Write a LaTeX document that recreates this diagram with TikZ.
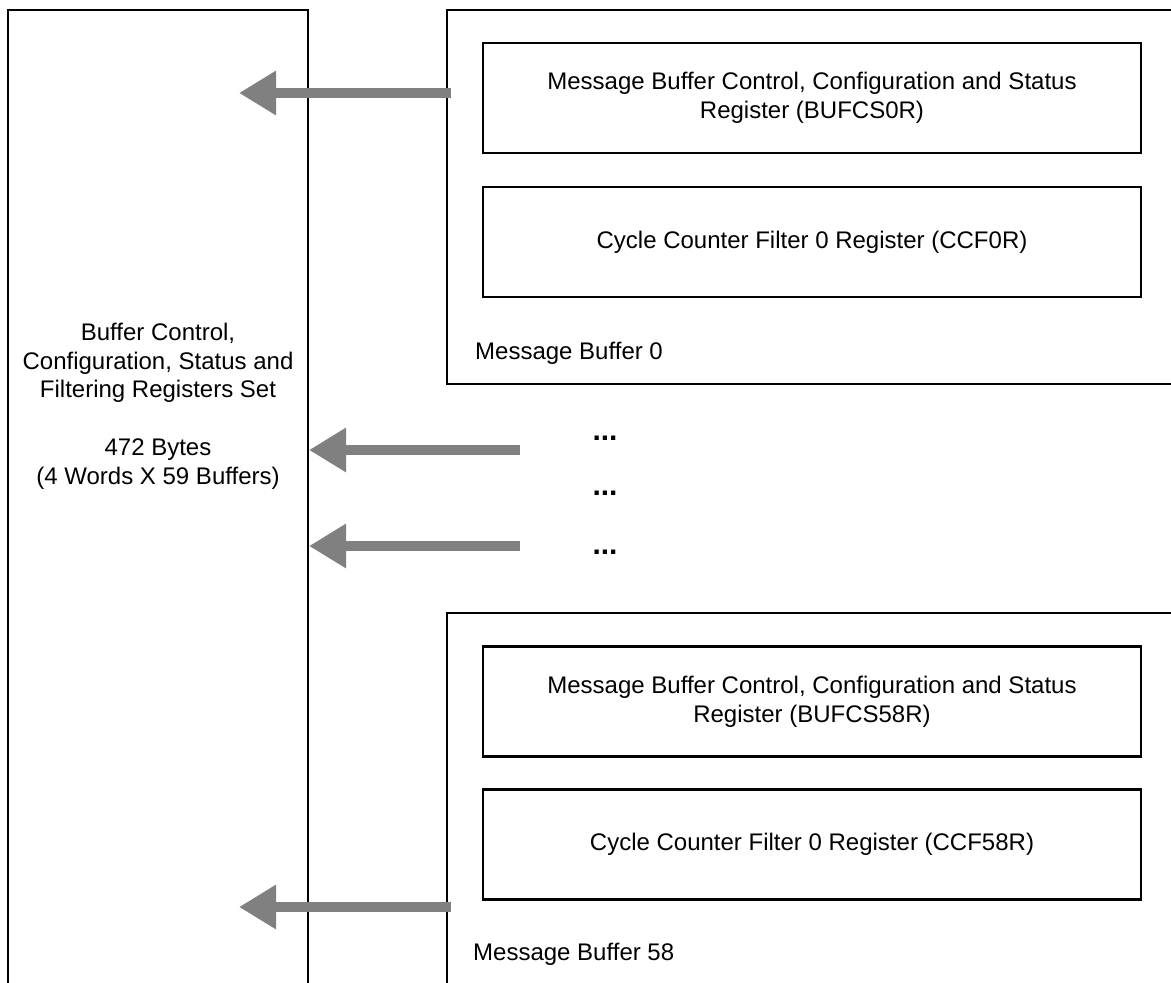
\documentclass[tikz,border=0pt]{standalone}
\usepackage{fontspec}
\setmainfont{Liberation Sans}
\usetikzlibrary{arrows.meta}
\begin{document}
\begin{tikzpicture}[x=1pt,y=-1pt,
  frame/.style={draw=black,line width=2.2pt},
  regbox/.style={draw=black,line width=2.2pt,minimum width=658pt,minimum height=110pt,align=center,inner sep=0pt,font=\fontsize{24}{28.8}\selectfont},
  lbl/.style={inner sep=0pt,font=\fontsize{24}{28.8}\selectfont},
  dots/.style={inner sep=0pt,font=\fontsize{30}{36}\selectfont\bfseries},
  bigarrow/.style={draw=black!50,line width=10pt,-{Triangle[length=37pt,width=42pt]}}]
\useasboundingbox (0,0) rectangle (1171,983);
% left set box (open at bottom)
\draw[frame] (8,995) -- (8,10) -- (308,10) -- (308,995);
% Message buffer 0 (open at right)
\draw[frame] (1185,10) -- (447,10) -- (447,384) -- (1185,384);
% Message buffer 58 (open right and bottom)
\draw[frame] (1185,613) -- (447,613) -- (447,995);
% register boxes
\node[regbox] (bufcs0) at (812,98) {Message Buffer Control, Configuration and Status\\Register (BUFCS0R)};
\node[regbox] (ccf0) at (812,242) {Cycle Counter Filter 0 Register (CCF0R)};
\node[regbox] (bufcs58) at (812,701.5) {Message Buffer Control, Configuration and Status\\Register (BUFCS58R)};
\node[regbox] (ccf58) at (812,844.5) {Cycle Counter Filter 0 Register (CCF58R)};
% labels
\node[lbl,anchor=west] (mb0) at (475,353) {Message Buffer 0};
\node[lbl,anchor=west] (mb58) at (473,954) {Message Buffer 58};
\node[lbl,align=center] (set) at (158,406) {Buffer Control,\\Configuration, Status and\\Filtering Registers Set\\[28.8pt]472 Bytes\\(4 Words X 59 Buffers)};
\node[dots] (d1) at (605,438) {...};
\node[dots] (d2) at (605,493) {...};
\node[dots] (d3) at (605,552) {...};
% arrow end points
\coordinate (a1s) at (451,93);  \coordinate (a1e) at (239,93);
\coordinate (a2s) at (520,450); \coordinate (a2e) at (309,450);
\coordinate (a3s) at (520,546); \coordinate (a3e) at (309,546);
\coordinate (a4s) at (451,907); \coordinate (a4e) at (239,907);
\draw[bigarrow] (a1s) -- (a1e);
\draw[bigarrow] (a2s) -- (a2e);
\draw[bigarrow] (a3s) -- (a3e);
\draw[bigarrow] (a4s) -- (a4e);
\end{tikzpicture}
\end{document}
